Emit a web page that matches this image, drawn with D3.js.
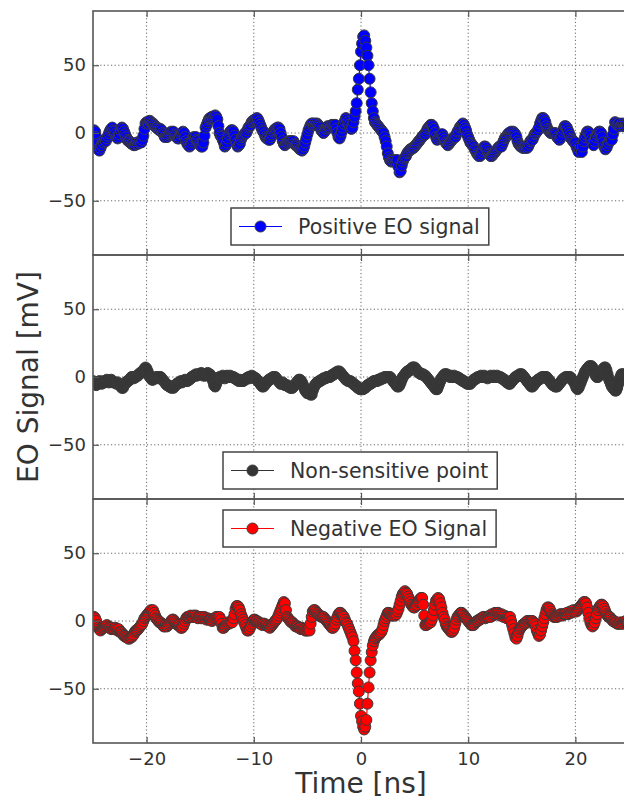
<!DOCTYPE html>
<html lang="en">
<head>
<meta charset="utf-8">
<title>EO Signal</title>
<script src="https://d3js.org/d3.v7.min.js"></script>
<style>
  body { margin: 0; background: white; }
  svg text { font-family: "DejaVu Sans", sans-serif; fill: #333; }
</style>
</head>
<body>
<div id="chart"></div>
<script>
// ---- data: scope traces, one value per 0.1 ns starting at -25 ns ----
var tStart = -25;
var tStep = 0.1;
var xTicks = [-20, -10, 0, 10, 20];
var yTicks = [-50, 0, 50];
var seriesNames = ["Positive EO signal", "Non-sensitive point", "Negative EO Signal"];

var positiveSignal = [
  0, 2, 1, -3, -8, -12, -13, -11, -9, -6,
  -7, -5, -6, -4, -2, 0, 2, 3, 4, 2,
  1, -1, -3, -4, -3, -1, 2, 4, 3, 1,
  -1, -3, -5, -6, -6, -7, -8, -8, -9, -9,
  -8, -7, -8, -7, -6, -7, -5, -2, 3, 7,
  8, 8, 7, 9, 8, 7, 7, 6, 5, 4,
  4, 3, 2, 3, 2, 0, -1, -3, -2, -3,
  -2, -1, 0, 1, 0, 1, -1, -2, -3, -4,
  -4, -3, -1, 0, 1, 0, -3, -6, -8, -9,
  -10, -9, -7, -5, -3, -4, -3, -5, -6, -8,
  -9, -10, -10, -7, -2, 4, 6, 8, 10, 11,
  11, 12, 11, 12, 13, 12, 10, 5, 0, -2,
  -3, -5, -7, -10, -9, -7, -4, -1, 1, 2,
  2, 1, -2, -5, -8, -10, -9, -8, -5, -3,
  -2, -1, 0, 0, 2, 4, 5, 6, 8, 9,
  9, 10, 10, 11, 10, 8, 6, 4, 2, 1,
  -1, -3, -4, -4, -5, -5, -3, -1, 1, 2,
  3, 3, 4, 4, 3, 0, -3, -6, -8, -9,
  -8, -7, -7, -6, -6, -6, -7, -6, -8, -9,
  -9, -10, -11, -12, -12, -13, -12, -10, -7, -4,
  -1, 2, 4, 6, 7, 7, 6, 7, 6, 7,
  6, 5, 4, 2, 1, 0, 1, 3, 4, 5,
  5, 4, 5, 6, 6, 5, 6, 3, 0, -3,
  -4, -2, 1, 4, 7, 9, 11, 10, 8, 6,
  4, 3, 4, 8, 12, 16, 22, 32, 40, 50,
  60, 66, 71, 72, 68, 63, 57, 50, 40, 30,
  22, 16, 11, 8, 7, 6, 5, 4, 3, 2,
  1, 0, -3, -6, -10, -15, -18, -20, -21, -21,
  -20, -21, -20, -22, -20, -25, -29, -28, -24, -21,
  -19, -18, -17, -15, -14, -13, -12, -12, -11, -11,
  -10, -9, -8, -7, -6, -5, -4, -3, -2, -1,
  -1, 1, 3, 4, 5, 6, 6, 5, 3, 0,
  -3, -5, -4, -3, -2, -1, -1, -3, -5, -7,
  -8, -9, -8, -7, -6, -5, -4, -3, -3, -1,
  1, 2, 4, 5, 6, 7, 6, 4, 2, -1,
  -3, -5, -7, -8, -9, -10, -12, -13, -15, -16,
  -17, -17, -16, -14, -12, -10, -10, -11, -13, -15,
  -16, -17, -17, -16, -15, -14, -13, -12, -11, -10,
  -10, -10, -8, -6, -4, -3, -2, -1, 0, 0,
  1, 0, 1, 0, -1, -3, -6, -8, -9, -10,
  -10, -11, -11, -11, -10, -11, -10, -8, -6, -5,
  -5, -3, -1, 0, 1, 2, 4, 7, 9, 11,
  11, 10, 8, 5, 3, 2, 1, 0, 0, 0,
  0, 0, -1, -3, -4, -5, -4, -2, 1, 3,
  5, 5, 4, 2, 0, -2, -4, -5, -6, -7,
  -7, -10, -12, -14, -12, -10, -14, -10, -6, -3,
  -1, 1, 1, 0, -2, -5, -7, -9, -6, -3,
  -1, 0, 1, 1, 0, -3, -7, -10, -12, -11,
  -9, -7, -5, -4, -5, -1, 3, 8, 7, 6,
  6, 7, 5, 6, 7, 6, 5, 6, 5, 6
];

var flatSignal = [
  -3, -4, -5, -6, -5, -4, -3, -4, -5, -4,
  -3, -4, -3, -2, -3, -4, -3, -2, -3, -4,
  -4, -4, -5, -4, -5, -6, -7, -8, -8, -6,
  -5, -4, -3, -3, -2, -1, 0, 0, -1, 0,
  0, 1, 1, 2, 3, 3, 4, 5, 6, 7,
  6, 4, 2, 0, -1, -2, -2, -1, -1, 0,
  0, -1, 0, 0, -1, -2, -3, -4, -5, -6,
  -6, -7, -7, -8, -7, -8, -7, -6, -5, -5,
  -4, -4, -3, -4, -3, -3, -2, -3, -3, -2,
  -2, -1, 0, 0, 1, 1, 2, 1, 2, 2,
  2, 3, 2, 1, 2, 1, 2, 3, 2, 2,
  1, -1, -3, -6, -7, -5, -3, -1, 0, 0,
  0, 1, 0, -1, 0, 1, 0, 0, 1, 0,
  0, 0, -1, -1, -2, -2, -3, -2, -3, -3,
  -3, -2, -2, -1, -1, 0, -1, 0, 1, 0,
  0, -1, -1, -2, -3, -4, -5, -6, -7, -7,
  -6, -5, -4, -3, -2, -2, -1, -1, 0, 0,
  0, -1, -2, -3, -4, -5, -5, -4, -5, -6,
  -6, -6, -7, -7, -8, -8, -8, -7, -6, -5,
  -4, -3, -2, -2, -3, -4, -6, -8, -10, -11,
  -12, -11, -12, -13, -13, -10, -8, -6, -5, -4,
  -4, -3, -3, -2, -2, -1, -1, -1, 0, 0,
  0, 0, 1, 1, 2, 2, 3, 3, 4, 4,
  4, 3, 2, 1, 0, -1, -2, -2, -3, -3,
  -3, -4, -4, -5, -6, -6, -7, -8, -8, -9,
  -9, -9, -9, -8, -8, -7, -6, -6, -5, -5,
  -4, -4, -3, -3, -3, -3, -2, -2, -2, -1,
  -1, -1, 0, 0, 0, 0, 0, 0, -1, -2,
  -3, -4, -5, -6, -7, -7, -6, -4, -2, 0,
  1, 2, 3, 4, 4, 5, 5, 6, 7, 7,
  7, 6, 5, 4, 3, 3, 2, 2, 2, 1,
  1, 0, -1, -2, -3, -4, -5, -6, -7, -8,
  -9, -9, -7, -5, -3, -1, 0, 1, 2, 2,
  2, 1, 1, 0, 1, 0, 0, 1, 0, 0,
  0, -1, -1, -2, -2, -3, -3, -4, -4, -5,
  -5, -5, -5, -4, -3, -2, -2, -1, -1, 0,
  0, 0, 1, 0, 0, 1, 0, 0, -1, 0,
  0, 1, 0, 0, 1, 0, 0, 1, 0, 0,
  0, -1, -1, -2, -2, -3, -4, -4, -5, -5,
  -4, -3, -2, -1, 0, 0, 1, 1, 2, 2,
  2, 1, 0, -1, -2, -3, -4, -5, -6, -7,
  -7, -6, -5, -4, -3, -2, -2, -1, -1, 0,
  0, 0, 0, 0, -1, -2, -3, -4, -5, -6,
  -6, -7, -7, -7, -6, -5, -4, -3, -2, -1,
  -1, 0, 0, 0, 0, 0, -1, -2, -3, -4,
  -6, -8, -9, -8, -6, -4, -2, 0, 2, 4,
  5, 6, 7, 8, 8, 8, 7, 5, 3, 1,
  0, 0, 1, 2, 4, 5, 6, 7, 7, 5,
  2, -1, -3, -5, -7, -8, -9, -10, -10, -8,
  -5, -2, 0, 2, 2, 1, 2, 1, 2, 1
];

var negativeSignal = [
  3, 3, 2, 0, -3, -5, -6, -7, -6, -5,
  -5, -4, -4, -3, -4, -5, -5, -6, -5, -6,
  -6, -5, -6, -7, -6, -8, -8, -9, -10, -11,
  -11, -12, -12, -13, -13, -12, -12, -11, -10, -8,
  -7, -7, -6, -5, -4, -3, -2, 0, 2, 3,
  4, 5, 6, 7, 8, 7, 8, 6, 4, 2,
  1, 0, -1, -1, -2, -3, -4, -4, -3, -4,
  -3, -2, -1, 0, 1, 1, 0, -1, -2, -3,
  -3, -4, -5, -5, -4, -2, 0, 2, 3, 3,
  3, 4, 3, 3, 4, 3, 4, 3, 2, 3,
  3, 2, 3, 2, 3, 2, 1, 2, 1, 1,
  1, 0, 1, 2, 2, 3, 3, 2, 3, 1,
  -2, -5, -5, -4, -3, -2, -1, -2, -1, -1,
  -1, 2, 5, 9, 11, 11, 10, 8, 5, 3,
  1, -1, -3, -5, -7, -7, -6, -4, -2, 0,
  1, 1, 0, 0, -1, -1, -2, -2, -3, -2,
  -2, -3, -3, -4, -4, -5, -4, -3, -2, -1,
  0, 1, 2, 4, 6, 8, 10, 12, 14, 13,
  8, 3, 2, 1, 0, -1, -1, -2, -3, -4,
  -4, -4, -5, -5, -6, -5, -6, -6, -7, -7,
  -7, -6, -7, -2, 3, 7, 8, 8, 7, 6,
  5, 4, 4, 3, 3, 3, 2, 1, 0, -1,
  -2, -3, -4, -5, -5, -4, -2, 1, 3, 5,
  6, 6, 5, 4, 3, 1, -1, -2, -4, -6,
  -8, -10, -12, -15, -22, -29, -38, -46, -52, -61,
  -70, -74, -78, -80, -78, -73, -61, -49, -38, -29,
  -23, -18, -15, -13, -12, -11, -10, -10, -9, -8,
  -6, -3, 0, 2, 4, 6, 6, 5, 5, 4,
  4, 5, 4, 5, 7, 9, 12, 15, 18, 20,
  21, 22, 21, 20, 18, 16, 14, 12, 11, 10,
  10, 11, 12, 14, 15, 16, 17, 17, 12, 4,
  -3, -3, -2, -2, -1, -1, 1, 4, 8, 12,
  15, 16, 17, 16, 13, 10, 6, 3, 1, -2,
  -4, -5, -6, -7, -8, -8, -7, -5, -2, 1,
  3, 4, 5, 6, 6, 5, 4, 3, 2, 1,
  0, -1, -2, -3, -3, -3, -2, -1, 0, 0,
  1, 1, 2, 2, 3, 3, 2, 3, 3, 3,
  4, 3, 5, 4, 5, 6, 5, 6, 6, 5,
  4, 5, 4, 3, 4, 3, 2, 3, 2, 3,
  0, -3, -6, -9, -12, -13, -11, -8, -6, -5,
  -4, -3, -2, -2, -1, 0, 0, -1, 0, 0,
  0, -1, -2, -4, -7, -9, -11, -10, -7, -4,
  -1, 2, 5, 8, 10, 10, 9, 7, 5, 4,
  3, 3, 3, 3, 4, 4, 5, 5, 4, 5,
  5, 5, 6, 5, 6, 7, 6, 7, 8, 7,
  8, 7, 8, 9, 10, 11, 12, 13, 14, 14,
  13, 10, 6, 2, -1, -3, -4, -3, -1, 2,
  5, 8, 10, 11, 12, 12, 11, 9, 7, 5,
  4, 3, 3, 2, 1, 0, 0, -1, -1, -2,
  -2, -2, -1, -2, -2, -1, -1, 0, -1, -1
];

// ---- layout ----
var width = 624, height = 801;
var left = 93, right = 629;   // right edge of the axes falls just off the page
var panelTop = 11, panelH = 244;

var panels = [
  { values: positiveSignal, name: seriesNames[0], color: "#0000ff", fill: "#0000ff", legendX: 231, legendY: 208 },
  { values: flatSignal,     name: seriesNames[1], color: "#333333", fill: "#353535", legendX: 223, legendY: 452 },
  { values: negativeSignal, name: seriesNames[2], color: "#ff0000", fill: "#ff0000", legendX: 223, legendY: 510 }
];

var svg = d3.select("#chart")
  .append("svg")
  .attr("width", width)
  .attr("height", height);

var x = d3.scaleLinear().domain([-25, 25]).range([left, right]);

panels.forEach(function(p, k) {
  var top = panelTop + k * panelH;
  var bottom = top + panelH;
  var y = d3.scaleLinear().domain([-90, 90]).range([bottom, top]);
  var pts = p.values.map(function(v, i) { return { t: tStart + i * tStep, v: v }; });

  var clipId = "clip" + k;
  svg.append("clipPath").attr("id", clipId)
    .append("rect")
    .attr("x", left).attr("y", top)
    .attr("width", right - left).attr("height", panelH);

  // dotted grid
  var grid = svg.append("g");
  grid.selectAll("line.gy")
    .data(yTicks)
    .enter().append("line")
    .attr("class", "gy")
    .attr("x1", left).attr("x2", right)
    .attr("y1", function(d) { return y(d); })
    .attr("y2", function(d) { return y(d); });
  grid.selectAll("line.gx")
    .data(xTicks)
    .enter().append("line")
    .attr("class", "gx")
    .attr("x1", function(d) { return x(d); })
    .attr("x2", function(d) { return x(d); })
    .attr("y1", top).attr("y2", bottom);
  grid.selectAll("line")
    .attr("stroke", "#666")
    .attr("stroke-width", 1)
    .attr("stroke-dasharray", "1.2,2.4");

  // trace
  var plot = svg.append("g").attr("clip-path", "url(#" + clipId + ")");
  var line = d3.line()
    .x(function(d) { return x(d.t); })
    .y(function(d) { return y(d.v); });
  plot.append("path")
    .datum(pts)
    .attr("d", line)
    .attr("fill", "none")
    .attr("stroke", p.color)
    .attr("stroke-width", 1.2);
  plot.selectAll("circle")
    .data(pts)
    .enter().append("circle")
    .attr("cx", function(d) { return x(d.t); })
    .attr("cy", function(d) { return y(d.v); })
    .attr("r", 5.5)
    .attr("fill", p.fill)
    .attr("stroke", "#3a3a3a")
    .attr("stroke-width", 1);

  // inward ticks and labels
  var yAxis = svg.append("g")
    .attr("transform", "translate(" + left + ",0)")
    .call(d3.axisLeft(y).tickValues(yTicks).tickSize(-6).tickPadding(7));
  var topAxis = svg.append("g")
    .attr("transform", "translate(0," + top + ")")
    .call(d3.axisTop(x).tickValues(xTicks).tickSize(-6).tickFormat(""));
  var bottomAxis = svg.append("g")
    .attr("transform", "translate(0," + bottom + ")")
    .call(d3.axisBottom(x).tickValues(xTicks).tickSize(-6).tickPadding(9)
      .tickFormat(k == panels.length - 1 ? d3.format("") : ""));
  [yAxis, topAxis, bottomAxis].forEach(function(a) {
    a.select(".domain").remove();
    a.selectAll("line").attr("stroke", "#555").attr("stroke-width", 1.2);
    a.selectAll("text").attr("font-size", 18).attr("font-family", "DejaVu Sans").attr("fill", "#333");
  });

  // frame
  svg.append("rect")
    .attr("x", left).attr("y", top)
    .attr("width", right - left).attr("height", panelH)
    .attr("fill", "none")
    .attr("stroke", "#555")
    .attr("stroke-width", 1.6);

  // legend
  var lg = svg.append("g").attr("transform", "translate(" + p.legendX + "," + p.legendY + ")");
  var box = lg.append("rect")
    .attr("x", 0).attr("y", 0)
    .attr("height", 37)
    .attr("fill", "white")
    .attr("stroke", "#444")
    .attr("stroke-width", 1.5);
  lg.append("line")
    .attr("x1", 8).attr("x2", 51)
    .attr("y1", 18.5).attr("y2", 18.5)
    .attr("stroke", p.color)
    .attr("stroke-width", 1.2);
  lg.append("circle")
    .attr("cx", 29.5).attr("cy", 18.5).attr("r", 5.5)
    .attr("fill", p.fill)
    .attr("stroke", "#3a3a3a");
  var txt = lg.append("text")
    .attr("x", 67).attr("y", 25.5)
    .attr("font-size", 20.5)
    .text(p.name);
  box.attr("width", 67 + txt.node().getComputedTextLength() + 9);
});

// axis titles
svg.append("text")
  .attr("x", 361).attr("y", 793)
  .attr("text-anchor", "middle")
  .attr("font-size", 28)
  .text("Time [ns]");
svg.append("text")
  .attr("transform", "translate(38,377) rotate(-90)")
  .attr("text-anchor", "middle")
  .attr("font-size", 28)
  .text("EO Signal [mV]");
</script>
</body>
</html>
